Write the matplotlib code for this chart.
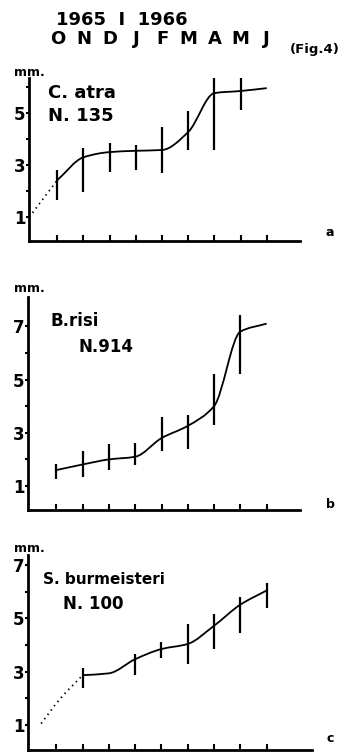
import numpy as np
import matplotlib
matplotlib.use('Agg')
import matplotlib.pyplot as plt
from matplotlib.path import Path
from matplotlib.patches import PathPatch
from matplotlib.transforms import blended_transform_factory

plt.rcParams['font.family'] = 'DejaVu Sans'
plt.rcParams['font.weight'] = 'bold'

months = ['O', 'N', 'D', 'J', 'F', 'M', 'A', 'M', 'J']

# panel a - C. atra
a_x = [0, 1, 2, 3, 4, 5, 6, 7, 8]
a_y = [2.42, 3.3, 3.5, 3.55, 3.58, 4.27, 5.77, 5.85, 5.96]
a_bar_x = [0, 1, 2, 3, 4, 5, 6, 7]
a_hi = [2.8, 3.65, 3.85, 3.77, 4.46, 5.08, 6.58, 6.46]
a_lo = [1.65, 1.96, 2.73, 2.8, 2.69, 3.58, 3.58, 5.1]
a_dot_x = [-1.07, 0]
a_dot_y = [1.0, 2.42]

# panel b - B. risi
b_x = [0, 1, 2, 3, 4, 5, 6, 7, 8]
b_y = [1.6, 1.81, 2.0, 2.1, 2.8, 3.26, 4.0, 6.8, 7.1]
b_bar_x = [0, 1, 2, 3, 4, 5, 6, 7]
b_hi = [1.81, 2.3, 2.59, 2.63, 3.6, 3.67, 5.2, 7.44]
b_lo = [1.26, 1.33, 1.6, 1.78, 2.3, 2.4, 3.3, 5.19]

# panel c - S. burmeisteri
c_x = [1, 2, 3, 4, 5, 6, 7, 8]
c_y = [2.87, 2.94, 3.47, 3.85, 4.04, 4.72, 5.51, 6.04]
c_bar_x = [1, 3, 4, 5, 6, 7, 8]
c_hi = [3.13, 3.66, 4.11, 4.79, 5.17, 5.81, 6.34]
c_lo = [2.38, 2.87, 3.51, 3.28, 3.85, 4.45, 5.4]
c_dot_x = [-0.58, 0.12, 1]
c_dot_y = [1.06, 1.96, 2.87]


def smooth_path(xs, ys):
    # monotone cubic (pchip style) drawn as bezier segments
    x = np.asarray(xs, float)
    y = np.asarray(ys, float)
    h = np.diff(x)
    d = np.diff(y) / h
    n = len(x)
    m = np.zeros(n)
    m[0], m[-1] = d[0], d[-1]
    for k in range(1, n - 1):
        if d[k - 1] * d[k] <= 0:
            m[k] = 0
        else:
            w1 = 2 * h[k] + h[k - 1]
            w2 = h[k] + 2 * h[k - 1]
            m[k] = (w1 + w2) / (w1 / d[k - 1] + w2 / d[k])
    verts = [(x[0], y[0])]
    codes = [Path.MOVETO]
    for k in range(n - 1):
        verts.append((x[k] + h[k] / 3, y[k] + m[k] * h[k] / 3))
        verts.append((x[k + 1] - h[k] / 3, y[k + 1] - m[k + 1] * h[k] / 3))
        verts.append((x[k + 1], y[k + 1]))
        codes += [Path.CURVE4] * 3
    return Path(verts, codes)


def setup(ax, ylim, xmax, labels, minors):
    ax.set_xlim(-1.08, xmax)
    ax.set_ylim(*ylim)
    for s in ['top', 'right']:
        ax.spines[s].set_visible(False)
    for s in ['left', 'bottom']:
        ax.spines[s].set_linewidth(2)
    ax.set_xticks(range(9))
    ax.set_xticklabels([])
    ax.tick_params(axis='x', direction='in', length=4, width=1.5)
    ax.set_yticks(labels)
    ax.set_yticklabels([str(v) for v in labels], fontsize=12, fontweight='bold')
    ax.set_yticks(minors, minor=True)
    ax.tick_params(axis='y', which='both', direction='out', length=2.5, width=1.5, pad=0)


def draw(ax, cx, cy, bx, lo, hi):
    ax.add_patch(PathPatch(smooth_path(cx, cy), fill=False, lw=1.3, color='black'))
    ax.vlines(bx, lo, hi, color='black', lw=1.6)


fig = plt.figure(figsize=(3.45, 7.53), dpi=100)
W, H = 345, 753


def add_ax(left, top, right, bottom):
    return fig.add_axes([left / W, 1 - bottom / H, (right - left) / W, (bottom - top) / H])


ax_a = add_ax(29, 78, 300, 241)
setup(ax_a, (0.08, 6.35), 9.27, [1, 3, 5], [2, 4, 6])
draw(ax_a, a_x, a_y, a_bar_x, a_lo, a_hi)
ax_a.plot(a_dot_x, a_dot_y, color='black', lw=1.3, ls=(0, (0.8, 2.2)))

ax_b = add_ax(28, 297, 300, 510)
setup(ax_b, (0.1, 8.1), 9.27, [1, 3, 5, 7], [2, 4, 6])
draw(ax_b, b_x, b_y, b_bar_x, b_lo, b_hi)

ax_c = add_ax(28, 555, 312, 750)
setup(ax_c, (0.07, 7.37), 9.73, [1, 3, 5, 7], [2, 4, 6])
draw(ax_c, c_x, c_y, c_bar_x, c_lo, c_hi)
dp = smooth_path(c_dot_x, c_dot_y)
ax_c.add_patch(PathPatch(dp, fill=False, lw=1.3, color='black', ls=(0, (0.8, 2.2))))

# header
tr = blended_transform_factory(ax_a.transData, fig.transFigure)
for i, m in enumerate(months):
    ax_a.text(i, 1 - 39 / H, m, transform=tr, ha='center', va='center', fontsize=13, fontweight='bold')
fig.text(122 / W, 1 - 20 / H, '1965  I  1966', ha='center', va='center', fontsize=13, fontweight='bold')
fig.text(315 / W, 1 - 49 / H, '(Fig.4)', ha='center', va='center', fontsize=9.5, fontweight='bold')

# mm. labels
for yy in [72, 289, 548]:
    fig.text(29 / W, 1 - yy / H, 'mm.', ha='center', va='center', fontsize=9, fontweight='bold')

# species labels
fig.text(48 / W, 1 - 93 / H, 'C. atra', ha='left', va='center', fontsize=13, fontweight='bold')
fig.text(48 / W, 1 - 116 / H, 'N. 135', ha='left', va='center', fontsize=13, fontweight='bold')
fig.text(50 / W, 1 - 321 / H, 'B.risi', ha='left', va='center', fontsize=12, fontweight='bold')
fig.text(78 / W, 1 - 347 / H, 'N.914', ha='left', va='center', fontsize=12, fontweight='bold')
fig.text(43 / W, 1 - 580 / H, 'S. burmeisteri', ha='left', va='center', fontsize=11, fontweight='bold')
fig.text(63 / W, 1 - 604 / H, 'N. 100', ha='left', va='center', fontsize=12, fontweight='bold')

# panel letters
for yy, s in [(233, 'a'), (505, 'b'), (738, 'c')]:
    fig.text(330 / W, 1 - yy / H, s, ha='center', va='center', fontsize=9, fontweight='bold')

fig.savefig('out.png', dpi=100)
